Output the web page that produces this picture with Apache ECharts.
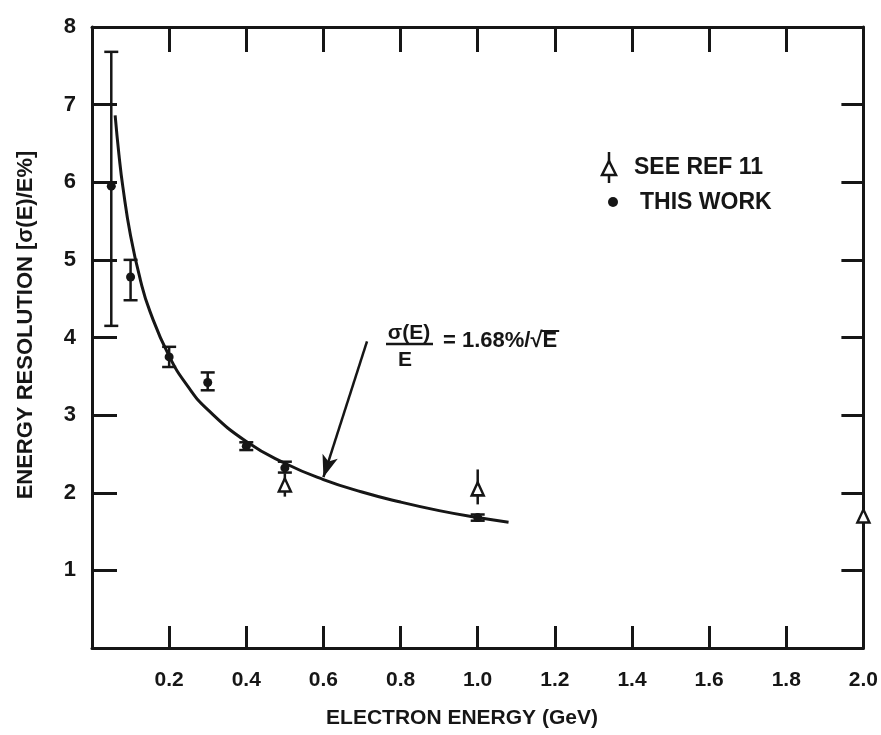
<!DOCTYPE html>
<html>
<head>
<meta charset="utf-8">
<script src="https://cdn.jsdelivr.net/npm/echarts@6/dist/echarts.min.js"></script>
<style>
  html, body { margin: 0; padding: 0; background: #fff; }
  #chart { width: 881px; height: 735px; }
</style>
</head>
<body>
<div id="chart"></div>
<script>
// Calorimeter energy resolution measurements (this work)
const energies   = [0.05, 0.1, 0.2, 0.3, 0.4, 0.5, 1.0];
const resolution = [5.95, 4.78, 3.75, 3.42, 2.6, 2.32, 1.68];
const resLow     = [4.15, 4.48, 3.62, 3.32, 2.55, 2.26, 1.64];
const resHigh    = [7.68, 5.0, 3.88, 3.55, 2.65, 2.4, 1.72];

// Earlier results (ref. 11)
const refEnergies   = [0.5, 1.0, 2.0];
const refResolution = [2.1, 2.05, 1.7];
const refLow        = [1.95, 1.85, 1.5];
const refHigh       = [2.25, 2.3, 1.92];

// Fitted curve sigma(E)/E = 1.68%/sqrt(E)
const fitEnergy     = [0.06, 0.07, 0.08, 0.1, 0.125, 0.15, 0.2, 0.25, 0.3, 0.4, 0.5, 0.6, 0.7, 0.8, 0.9, 1.0, 1.08];
const fitResolution = [6.86, 6.35, 5.94, 5.31, 4.75, 4.34, 3.76, 3.36, 3.07, 2.66, 2.38, 2.17, 2.01, 1.88, 1.77, 1.68, 1.62];

// Axis ticks
const xTicks = { min: 0, max: 2.0, interval: 0.2 };
const yTicks = { min: 0, max: 8, interval: 1 };

const INK = '#161616';
const FONT = '"Liberation Sans", Arial, sans-serif';

// Width of a string in a given font, used to place the radical's overline
function textWidth(str, font) {
  const ctx = document.createElement('canvas').getContext('2d');
  ctx.font = font;
  return ctx.measureText(str).width;
}

const chart = echarts.init(document.getElementById('chart'));

function errorBarRenderer(withCaps) {
  return function (params, api) {
    const x = api.value(0);
    const lo = api.coord([x, api.value(1)]);
    const hi = api.coord([x, api.value(2)]);
    const style = { stroke: INK, lineWidth: 2.5 };
    const children = [{
      type: 'line', shape: { x1: lo[0], y1: lo[1], x2: hi[0], y2: hi[1] }, style
    }];
    if (withCaps) {
      const w = 7;
      children.push({ type: 'line', shape: { x1: lo[0] - w, y1: lo[1], x2: lo[0] + w, y2: lo[1] }, style });
      children.push({ type: 'line', shape: { x1: hi[0] - w, y1: hi[1], x2: hi[0] + w, y2: hi[1] }, style });
    }
    return { type: 'group', children };
  };
}

const axisLine = { show: true, onZero: false, lineStyle: { color: INK, width: 3 } };
const tickStyle = { color: INK, width: 3 };

// Formula text: "= 1.68%/√E" with an overline over E
const formulaFont = 'bold 22px ' + FONT;
const formulaHead = '= 1.68%/√';
const formulaX = 443;
const headW = textWidth(formulaHead, formulaFont);
const eW = textWidth('E', formulaFont);

chart.setOption({
  animation: false,
  backgroundColor: '#fff',
  grid: { left: 92, right: 15, top: 27, bottom: 87 },
  xAxis: [{
    type: 'value', min: xTicks.min, max: xTicks.max, interval: xTicks.interval,
    position: 'bottom',
    axisLine,
    axisTick: { inside: true, length: 22, lineStyle: tickStyle },
    axisLabel: {
      margin: 22, color: INK, fontFamily: FONT, fontSize: 21, fontWeight: 'bold',
      formatter: v => (v === 0 ? '' : v.toFixed(1))
    },
    splitLine: { show: false }
  }, {
    type: 'value', min: xTicks.min, max: xTicks.max, interval: xTicks.interval,
    position: 'top',
    axisLine,
    axisTick: { inside: true, length: 25, lineStyle: tickStyle },
    axisLabel: { show: false },
    splitLine: { show: false }
  }],
  yAxis: [{
    type: 'value', min: yTicks.min, max: yTicks.max, interval: yTicks.interval,
    position: 'left',
    axisLine,
    axisTick: { inside: true, length: 25, lineStyle: tickStyle },
    axisLabel: {
      margin: 16, color: INK, fontFamily: FONT, fontSize: 22, fontWeight: 'bold',
      formatter: v => (v === 0 ? '' : String(v))
    },
    splitLine: { show: false }
  }, {
    type: 'value', min: yTicks.min, max: yTicks.max, interval: yTicks.interval,
    position: 'right',
    axisLine,
    axisTick: { inside: true, length: 22, lineStyle: tickStyle },
    axisLabel: { show: false },
    splitLine: { show: false }
  }],
  series: [
    {
      name: 'fit', type: 'line', smooth: true, showSymbol: false,
      data: fitEnergy.map((e, i) => [e, fitResolution[i]]),
      lineStyle: { color: INK, width: 3 },
      z: 2,
      markLine: {
        silent: true, symbol: ['none', 'arrow'], symbolSize: [12, 22],
        lineStyle: { color: INK, width: 2.5, type: 'solid' },
        label: { show: false },
        data: [[{ coord: [0.713, 3.95] }, { coord: [0.6, 2.2] }]]
      }
    },
    {
      name: 'THIS WORK bars', type: 'custom', renderItem: errorBarRenderer(true),
      data: energies.map((e, i) => [e, resLow[i], resHigh[i]]), z: 3
    },
    {
      name: 'THIS WORK', type: 'scatter', symbol: 'circle', symbolSize: 9,
      data: energies.map((e, i) => [e, resolution[i]]),
      itemStyle: { color: INK, opacity: 1 }, z: 4
    },
    {
      name: 'SEE REF 11 bars', type: 'custom', renderItem: errorBarRenderer(false),
      data: refEnergies.map((e, i) => [e, refLow[i], refHigh[i]]), z: 3
    },
    {
      name: 'SEE REF 11', type: 'scatter', symbol: 'triangle', symbolSize: [12, 13],
      clip: false,
      data: refEnergies.map((e, i) => [e, refResolution[i]]),
      itemStyle: { color: '#fff', borderColor: INK, borderWidth: 2.5, opacity: 1 }, z: 5
    }
  ],
  graphic: [
    // axis titles
    { type: 'text', x: 462, y: 718, style: { text: 'ELECTRON ENERGY (GeV)', fill: INK, font: 'bold 21px ' + FONT, align: 'center', verticalAlign: 'middle' } },
    { type: 'text', x: 26, y: 325, rotation: Math.PI / 2, style: { text: 'ENERGY RESOLUTION [σ(E)/E%]', fill: INK, font: 'bold 22px ' + FONT, align: 'center', verticalAlign: 'middle' } },
    // key
    { type: 'line', shape: { x1: 609, y1: 152, x2: 609, y2: 183 }, style: { stroke: INK, lineWidth: 2.5 } },
    { type: 'polygon', shape: { points: [[609, 161], [602, 175], [616, 175]] }, style: { fill: '#fff', stroke: INK, lineWidth: 2.5 } },
    { type: 'text', x: 634, y: 168, style: { text: 'SEE REF 11', fill: INK, font: 'bold 23px ' + FONT, verticalAlign: 'middle' } },
    { type: 'circle', shape: { cx: 613, cy: 202, r: 5 }, style: { fill: INK } },
    { type: 'text', x: 640, y: 203, style: { text: 'THIS WORK', fill: INK, font: 'bold 23px ' + FONT, verticalAlign: 'middle' } },
    // fit formula
    { type: 'text', x: 409, y: 333, style: { text: 'σ(E)', fill: INK, font: 'bold 21px ' + FONT, align: 'center', verticalAlign: 'middle' } },
    { type: 'line', shape: { x1: 386, y1: 344, x2: 433, y2: 344 }, style: { stroke: INK, lineWidth: 2.5 } },
    { type: 'text', x: 405, y: 360, style: { text: 'E', fill: INK, font: 'bold 21px ' + FONT, align: 'center', verticalAlign: 'middle' } },
    { type: 'text', x: formulaX, y: 341, style: { text: formulaHead + 'E', fill: INK, font: formulaFont, verticalAlign: 'middle' } },
    { type: 'line', shape: { x1: formulaX + headW - 1, y1: 331, x2: formulaX + headW + eW + 2, y2: 331 }, style: { stroke: INK, lineWidth: 2 } }
  ]
});
</script>
</body>
</html>
